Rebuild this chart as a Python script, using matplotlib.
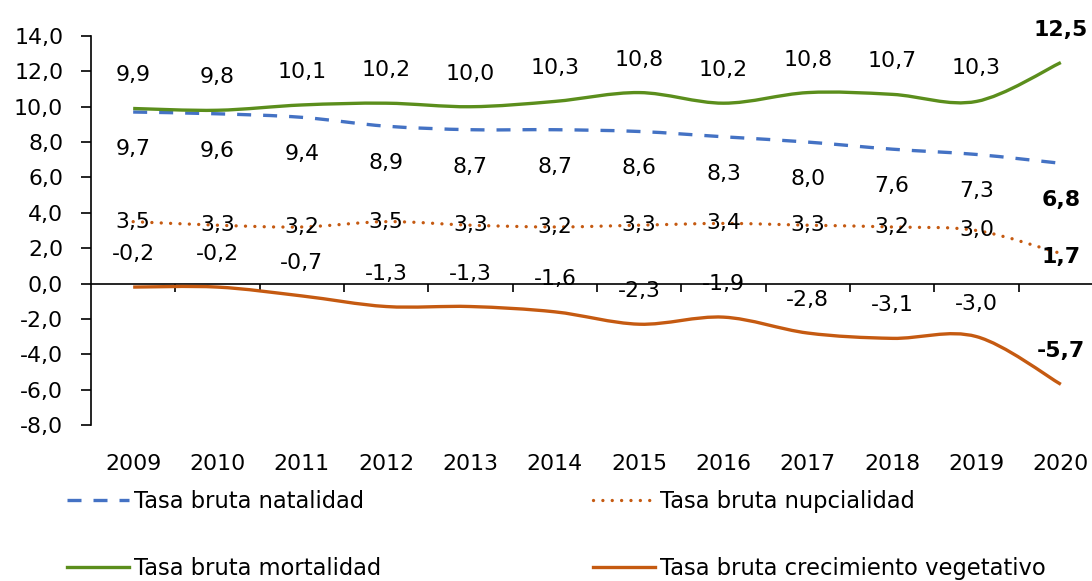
import numpy as np
import matplotlib.pyplot as plt
from matplotlib.path import Path
from matplotlib.patches import PathPatch
from matplotlib.lines import Line2D

plt.rcParams['font.family'] = ['DejaVu Sans']

# data
years = ['2009', '2010', '2011', '2012', '2013', '2014', '2015', '2016', '2017', '2018', '2019', '2020']
natalidad = [9.7, 9.6, 9.4, 8.9, 8.7, 8.7, 8.6, 8.3, 8.0, 7.6, 7.3, 6.8]
mortalidad = [9.9, 9.8, 10.1, 10.2, 10.0, 10.3, 10.8, 10.2, 10.8, 10.7, 10.3, 12.5]
nupcialidad = [3.5, 3.3, 3.2, 3.5, 3.3, 3.2, 3.3, 3.4, 3.3, 3.2, 3.0, 1.7]
crecimiento = [-0.2, -0.2, -0.7, -1.3, -1.3, -1.6, -2.3, -1.9, -2.8, -3.1, -3.0, -5.7]

c_blue = '#4472C4'
c_green = '#5B8E1C'
c_orange = '#C55A11'
FS = 15.8
LW = 2.4


def smooth_path(vals):
    # excel-like smoothed line: bezier segments through each point
    n = len(vals)
    pts = np.column_stack([np.arange(n), vals]).astype(float)
    verts = [pts[0]]
    codes = [Path.MOVETO]
    for i in range(n - 1):
        p0 = pts[max(i - 1, 0)]
        p1 = pts[i]
        p2 = pts[i + 1]
        p3 = pts[min(i + 2, n - 1)]
        verts += [p1 + (p2 - p0) / 6, p2 - (p3 - p1) / 6, p2]
        codes += [Path.CURVE4] * 3
    return Path(verts, codes)


def fmt(v):
    return f'{v:.1f}'.replace('.', ',')


fig = plt.figure(figsize=(10.92, 5.81), dpi=100)
ax = fig.add_axes([91 / 1092, 1 - 425 / 581, 1012 / 1092, 389 / 581])

series = [
    (natalidad, c_blue, (0, (4.2, 3.6)), 'butt', 'Tasa bruta natalidad', -37),
    (mortalidad, c_green, '-', 'butt', 'Tasa bruta mortalidad', 33),
    (nupcialidad, c_orange, (0, (0.01, 2.8)), 'round', 'Tasa bruta nupcialidad', 0),
    (crecimiento, c_orange, '-', 'butt', 'Tasa bruta crecimiento vegetativo', 33),
]

handles = []
for vals, col, ls, cap, lab, off in series:
    p = PathPatch(smooth_path(vals), fill=False, edgecolor=col, lw=LW,
                  linestyle=ls, capstyle=cap, zorder=3)
    ax.add_patch(p)
    h = Line2D([], [], color=col, lw=LW, linestyle=ls, label=lab)
    if cap == 'round':
        h.set_dash_capstyle('round')
    handles.append(h)
    for i, v in enumerate(vals):
        last = i == len(vals) - 1
        o = off
        if last and off == 0:
            o = -4
        ax.annotate(fmt(v), (i, v), xytext=(0, o), textcoords='offset pixels',
                    ha='center', va='center', fontsize=FS,
                    fontweight='bold' if last else 'normal', zorder=5)

ax.set_xlim(-0.5, 11.5)
ax.set_ylim(-8, 14)
ax.set_yticks(np.arange(-8, 15, 2))
ax.set_yticklabels([fmt(v) for v in np.arange(-8, 15, 2)], fontsize=FS)
ax.tick_params(axis='y', direction='out', length=7, width=1.2, pad=13)

for s in ['top', 'right']:
    ax.spines[s].set_visible(False)
ax.spines['left'].set_linewidth(1.2)
ax.spines['bottom'].set_position(('data', 0))
ax.spines['bottom'].set_linewidth(1.2)
ax.set_xticks([])
ax.set_xticks(np.arange(0.5, 11.6, 1), minor=True)
ax.tick_params(axis='x', which='minor', direction='out', length=6, width=1.2)

sec = ax.secondary_xaxis('bottom')
sec.set_xticks(np.arange(len(years)))
sec.set_xticklabels(years, fontsize=FS)
sec.tick_params(length=0, pad=21)
sec.spines['bottom'].set_visible(False)

fig.legend(handles=handles, loc='upper left', bbox_to_anchor=(67 / 1092, 1 - 490 / 581),
           ncol=2, frameon=False, fontsize=16.3, handlelength=2.75, handletextpad=0.22,
           columnspacing=9.35, labelspacing=1.95, borderpad=0, borderaxespad=0)

fig.savefig('out.png', dpi=100)
